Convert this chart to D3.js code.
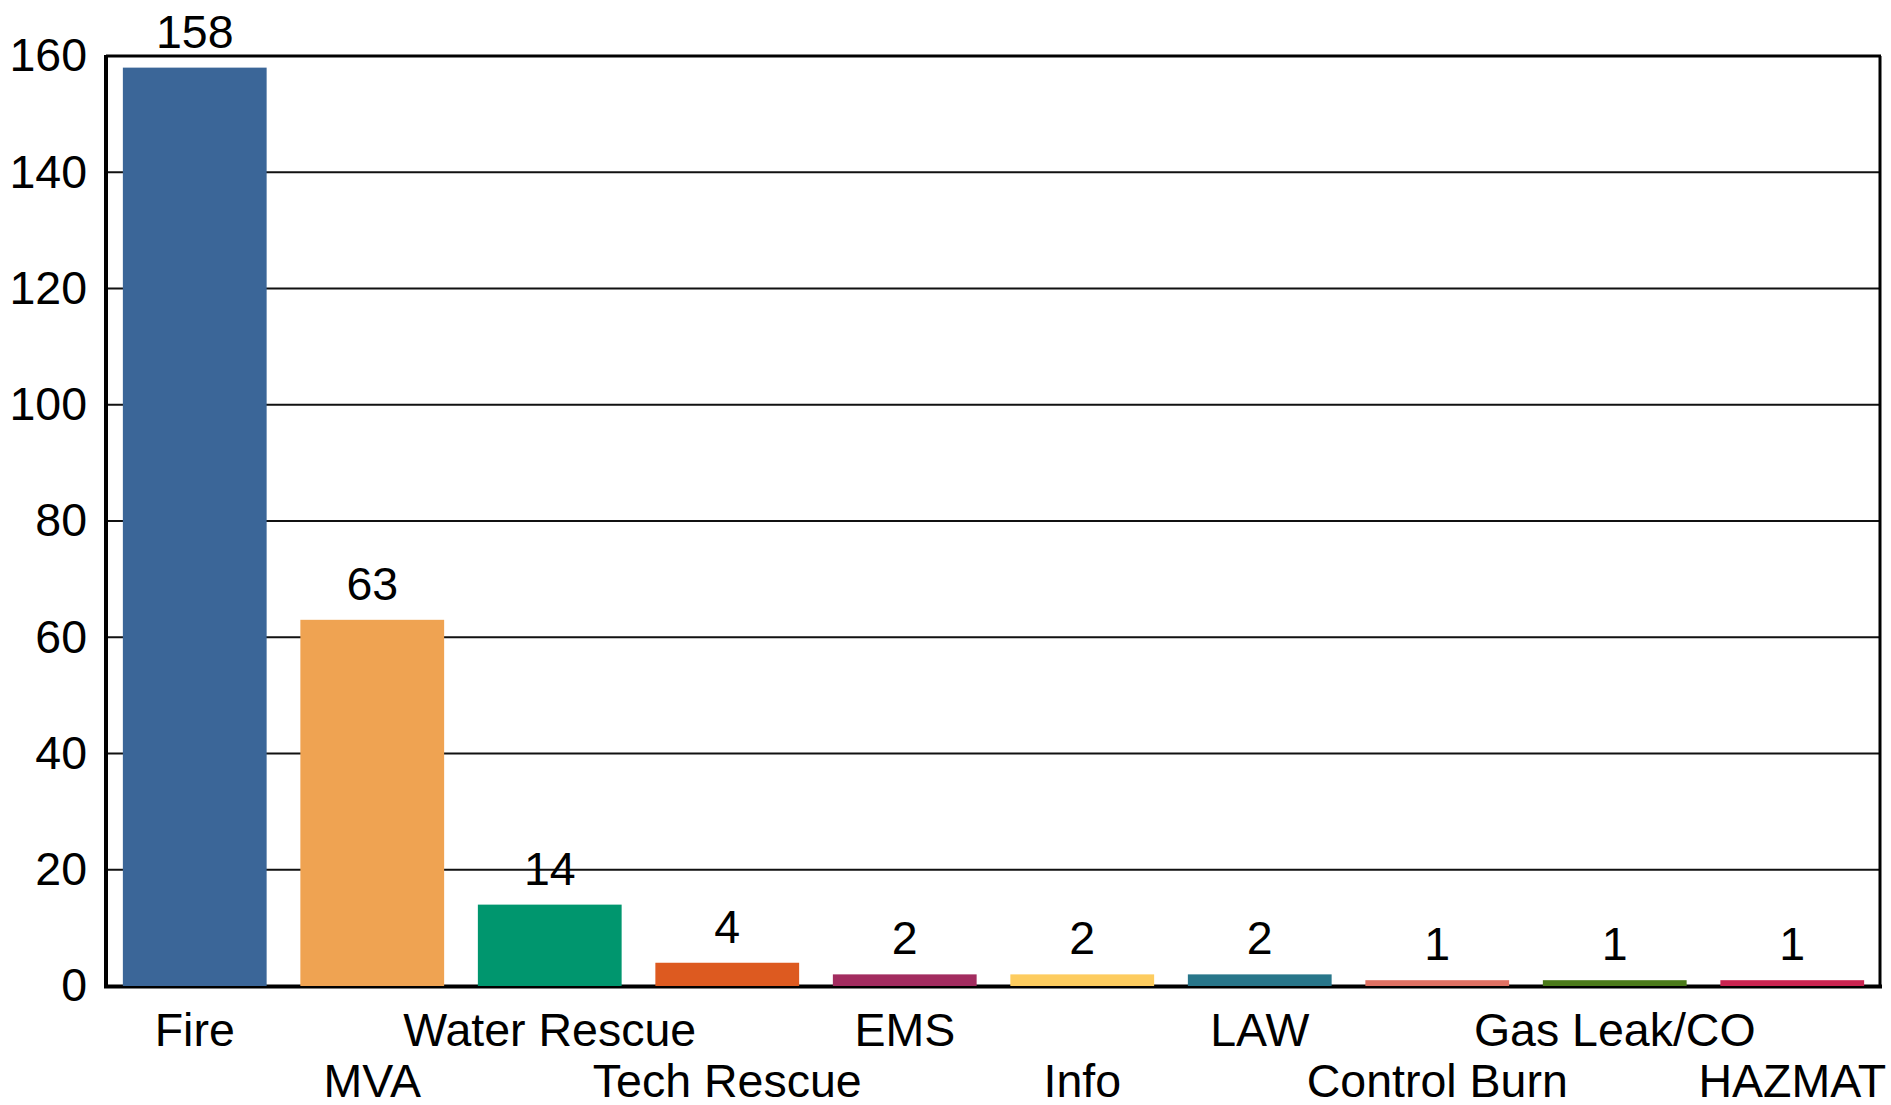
<!DOCTYPE html>
<html>
<head>
<meta charset="utf-8">
<script src="https://cdn.jsdelivr.net/npm/d3@7"></script>
<style>
html,body{margin:0;padding:0;background:#fff;}
svg{display:block;}
text{font-family:"Liberation Sans",Arial,sans-serif;fill:#000;}
</style>
</head>
<body>
<svg id="chart" width="1891" height="1105"></svg>
<script>
const categories = ["Fire","MVA","Water Rescue","Tech Rescue","EMS","Info","LAW","Control Burn","Gas Leak/CO","HAZMAT"];
const values = [158,63,14,4,2,2,2,1,1,1];
const colors = ["#3b6698","#efa352","#00966e","#dd5a20","#a22c5f","#fdcc5f","#28768a","#df7163","#4b7a1a","#c92450"];
const yTicks = [0,20,40,60,80,100,120,140,160];

const W = 1891, H = 1105;
const m = {left:106, top:56, right:10, bottom:119};
const iw = W - m.left - m.right, ih = H - m.top - m.bottom;
const FS = 46.5;

const svg = d3.select("#chart");
const g = svg.append("g").attr("transform", `translate(${m.left},${m.top})`);

const x = d3.scaleBand().domain(categories).range([0, iw]).paddingInner(0.19).paddingOuter(0.095);
const y = d3.scaleLinear().domain([0,160]).range([ih, 0]);

// gridlines
g.append("g").selectAll("line").data(yTicks.filter(d => d > 0 && d < 160)).join("line")
  .attr("x1", 0).attr("x2", iw)
  .attr("y1", d => y(d)).attr("y2", d => y(d))
  .attr("stroke", "#111").attr("stroke-width", 2);

// border top and right
g.append("line").attr("x1", 0).attr("x2", iw).attr("y1", y(160)).attr("y2", y(160))
  .attr("stroke", "#000").attr("stroke-width", 3);
g.append("line").attr("x1", iw - 1).attr("x2", iw - 1).attr("y1", y(160)).attr("y2", ih)
  .attr("stroke", "#000").attr("stroke-width", 3);

// y axis
const yAxis = d3.axisLeft(y).tickValues(yTicks).tickSize(0).tickPadding(19);
const ya = g.append("g").call(yAxis);
ya.select(".domain").remove();
ya.selectAll("text").attr("font-size", FS).style("font-family", '"Liberation Sans",Arial,sans-serif').attr("fill", "#000");
g.append("line").attr("x1", 0).attr("x2", 0).attr("y1", y(160) - 1).attr("y2", ih + 2)
  .attr("stroke", "#000").attr("stroke-width", 4);

// x axis line
g.append("line").attr("x1", -2).attr("x2", iw + 1).attr("y1", ih + 0.5).attr("y2", ih + 0.5)
  .attr("stroke", "#000").attr("stroke-width", 4);

// bars
g.append("g").selectAll("rect").data(values).join("rect")
  .attr("x", (d,i) => x(categories[i]))
  .attr("width", x.bandwidth())
  .attr("y", d => y(d))
  .attr("height", d => ih - y(d))
  .attr("fill", (d,i) => colors[i]);

// value labels
g.append("g").selectAll("text").data(values).join("text")
  .attr("x", (d,i) => x(categories[i]) + x.bandwidth()/2)
  .attr("y", d => y(d) - 20)
  .attr("text-anchor", "middle")
  .attr("font-size", FS)
  .text(d => d);

// x labels (staggered)
const xAxis = d3.axisBottom(x).tickSize(0).tickPadding(0);
const xa = g.append("g").attr("transform", `translate(0,${ih})`).call(xAxis);
xa.select(".domain").remove();
xa.selectAll("text")
  .attr("font-size", FS)
  .style("font-family", '"Liberation Sans",Arial,sans-serif')
  .attr("fill", "#000")
  .attr("dy", null)
  .attr("y", (d,i) => i % 2 === 0 ? 60 : 111);
</script>
</body>
</html>
